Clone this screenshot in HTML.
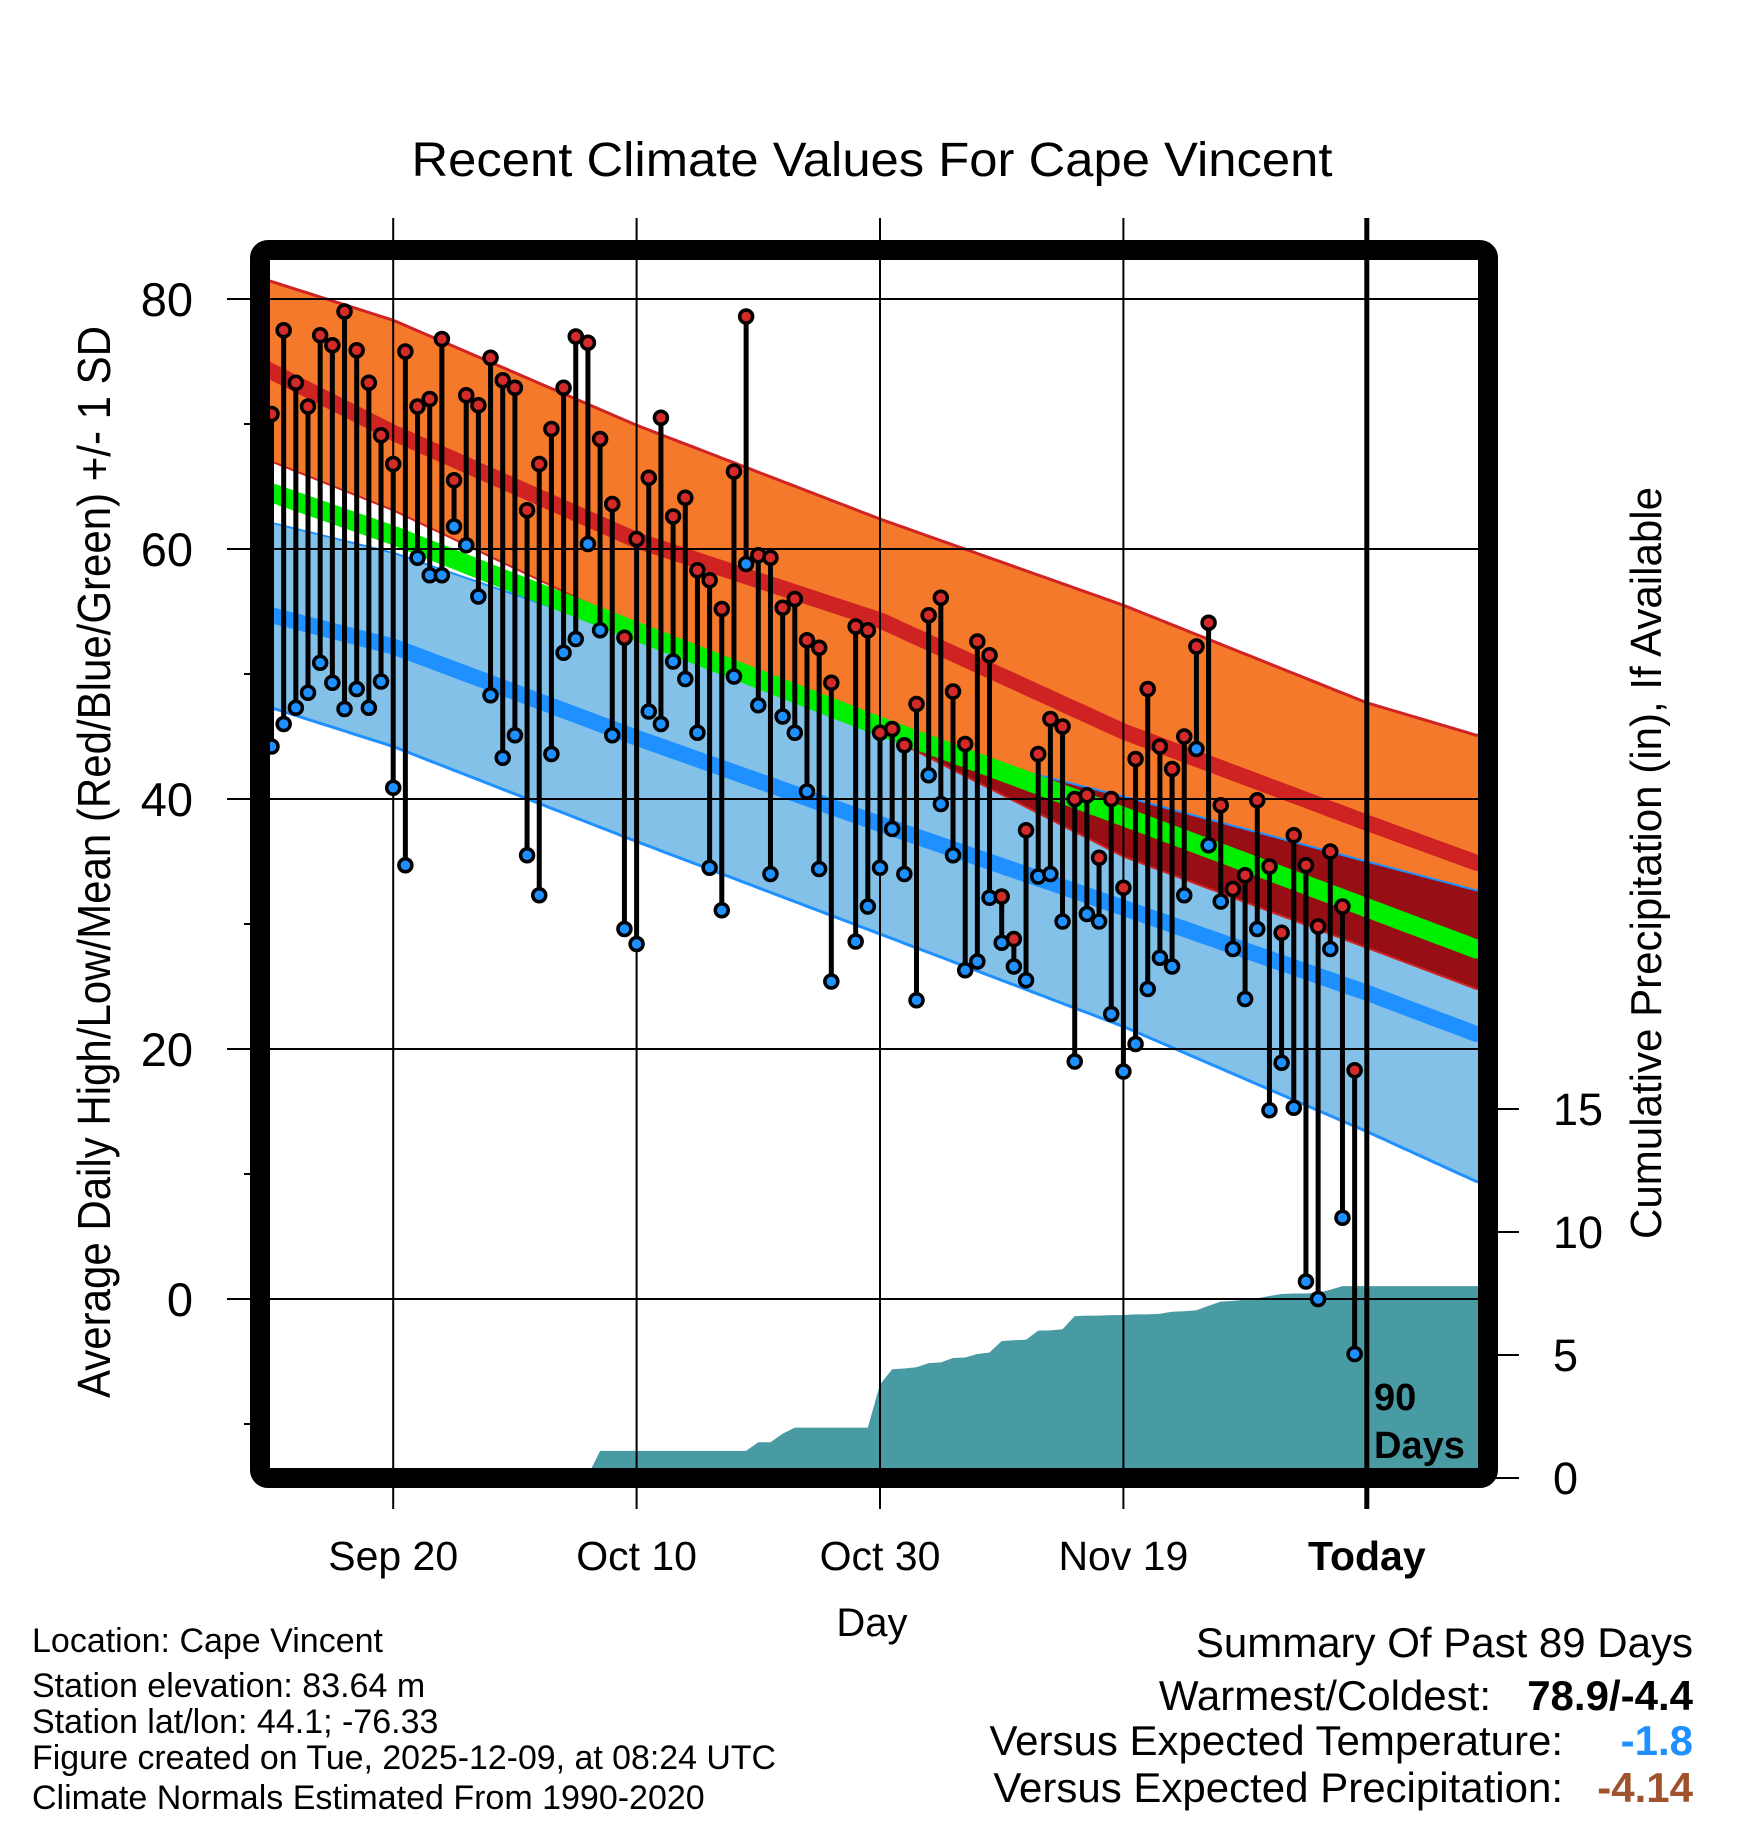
<!DOCTYPE html>
<html><head><meta charset="utf-8">
<style>
html,body{margin:0;padding:0;background:#fff;}
svg{display:block;font-family:"Liberation Sans",sans-serif;}
</style></head>
<body>
<svg id="chart" width="1748" height="1828" viewBox="0 0 1748 1828" xmlns="http://www.w3.org/2000/svg">
<rect width="1748" height="1828" fill="#fff"/>
<text x="872" y="176" font-size="48" text-anchor="middle" textLength="921" lengthAdjust="spacingAndGlyphs">Recent Climate Values For Cape Vincent</text>
<defs><clipPath id="plotclip"><rect x="270" y="260" width="1208" height="1208"/></clipPath></defs>
<g id="axes"></g>
<g id="plot" clip-path="url(#plotclip)"></g>
<g id="over"></g>
<rect x="260" y="250" width="1228" height="1228" rx="8" fill="none" stroke="#000" stroke-width="20"/>
<text transform="translate(110,862) rotate(-90)" font-size="46" text-anchor="middle" textLength="1072" lengthAdjust="spacingAndGlyphs">Average Daily High/Low/Mean (Red/Blue/Green) +/- 1 SD</text>
<text transform="translate(1661,863) rotate(-90)" font-size="44" text-anchor="middle" textLength="752" lengthAdjust="spacingAndGlyphs">Cumulative Precipitation (in), If Available</text>
<text x="872" y="1636" font-size="40" text-anchor="middle">Day</text>
<text x="1374" y="1410" font-size="38" font-weight="bold">90</text>
<text x="1374" y="1458" font-size="38" font-weight="bold">Days</text>
<g font-size="34">
<text x="32" y="1652">Location: Cape Vincent</text>
<text x="32" y="1697">Station elevation: 83.64 m</text>
<text x="32" y="1733">Station lat/lon: 44.1; -76.33</text>
<text x="32" y="1769" textLength="744" lengthAdjust="spacingAndGlyphs">Figure created on Tue, 2025-12-09, at 08:24 UTC</text>
<text x="32" y="1809">Climate Normals Estimated From 1990-2020</text>
</g>
<g font-size="42" text-anchor="end">
<text x="1693" y="1657">Summary Of Past 89 Days</text>
<text x="1491" y="1710">Warmest/Coldest:</text>
<text x="1693" y="1710" font-weight="bold">78.9/-4.4</text>
<text x="1563" y="1755">Versus Expected Temperature:</text>
<text x="1693" y="1755" font-weight="bold" fill="#1e90ff">-1.8</text>
<text x="1563" y="1802">Versus Expected Precipitation:</text>
<text x="1693" y="1802" font-weight="bold" fill="#a0522d">-4.14</text>
</g>
</svg>
<script>
// ---- data ----
var highs = [70.8,77.5,73.3,71.4,77.1,76.3,79.0,75.9,73.3,69.1,66.8,75.8,71.4,72.0,76.8,65.5,72.3,71.5,75.3,73.5,72.9,63.1,66.8,69.6,72.9,77.0,76.5,68.8,63.6,52.9,60.8,65.7,70.5,62.6,64.1,58.3,57.5,55.2,66.2,78.6,59.5,59.3,55.3,56.0,52.7,52.1,49.3,null,53.8,53.5,45.3,45.6,44.3,47.6,54.7,56.1,48.6,44.4,52.6,51.5,32.2,28.8,37.5,43.6,46.4,45.8,40.0,40.3,35.3,40.0,32.9,43.2,48.8,44.2,42.4,45.0,52.2,54.1,39.5,32.8,33.9,39.9,34.6,29.3,37.1,34.7,29.8,35.8,31.4,18.3];
var lows  = [44.2,46.0,47.3,48.5,50.9,49.3,47.2,48.8,47.3,49.4,40.9,34.7,59.3,57.9,57.9,61.8,60.3,56.2,48.3,43.3,45.1,35.5,32.3,43.6,51.7,52.8,60.4,53.5,45.1,29.6,28.4,47.0,46.0,51.0,49.6,45.3,34.5,31.1,49.8,58.8,47.5,34.0,46.6,45.3,40.6,34.4,25.4,null,28.6,31.4,34.5,37.6,34.0,23.9,41.9,39.6,35.5,26.3,27.0,32.1,28.5,26.6,25.5,33.8,34.0,30.2,19.0,30.8,30.2,22.8,18.2,20.4,24.8,27.3,26.6,32.3,44.0,36.3,31.8,28.0,24.0,29.6,15.1,18.9,15.3,1.4,0.0,28.0,6.5,-4.4];
var precip = [0,0,0,0,0,0,0,0,0,0,0,0,0,0,0,0.1,0.1,0.1,0.1,0.1,0.1,0.1,0.1,0.1,0.1,0.1,0.1,1.1,1.1,1.1,1.1,1.1,1.1,1.1,1.1,1.1,1.1,1.1,1.1,1.1,1.45,1.45,1.8,2.05,2.05,2.05,2.05,2.05,2.05,2.05,3.8,4.42,4.45,4.5,4.67,4.7,4.88,4.9,5.04,5.1,5.57,5.6,5.62,5.99,6.0,6.05,6.58,6.6,6.6,6.62,6.62,6.65,6.65,6.68,6.76,6.78,6.82,7.0,7.17,7.2,7.25,7.31,7.4,7.48,7.5,7.5,7.53,7.65,7.8,7.8];
var normDays  = [0,10,30,50,70,90,99];
var highPlus  = [81.4,78.3,69.9,62.4,55.5,47.7,45.1];
var highMean  = [74.2,69.3,60.7,54.3,45.4,38.1,34.9];
var highMinus = [67.0,63.1,53.8,45.3,35.4,28.1,24.8];
var lowPlus   = [62.1,59.7,53.0,45.1,40.2,35.0,32.7];
var meanTemp  = [64.5,61.1,53.4,45.8,38.6,31.3,28.0];
var lowMean   = [54.7,52.2,44.9,38.0,31.3,24.5,21.2];
var lowMinus  = [47.3,44.2,36.6,29.2,21.8,13.4,9.4];
var yTicks = [80,60,40,20,0];
var yMinor = [70,50,30,10,-10];
var xTickDays = [10,30,50,70,90];
var xTickLabels = ["Sep 20","Oct 10","Oct 30","Nov 19","Today"];
var pTicks = [0,5,10,15];

// ---- scales ----
function xS(d){return 271.5+12.17*d;}
function yT(v){return 1299-12.5*v;}
function yP(p){return 1478-24.6*p;}
var NS="http://www.w3.org/2000/svg";
function mk(tag,attrs,parent){var e=document.createElementNS(NS,tag);for(var k in attrs)e.setAttribute(k,attrs[k]);parent.appendChild(e);return e;}
var plot=document.getElementById('plot'),axes=document.getElementById('axes'),over=document.getElementById('over');
function interp(arr,d){for(var i=0;i<normDays.length-1;i++){if(d<=normDays[i+1]){var t=(d-normDays[i])/(normDays[i+1]-normDays[i]);return arr[i]+t*(arr[i+1]-arr[i]);}}return arr[arr.length-1];}
var samp=[];for(var d=-1;d<=100;d+=0.5)samp.push(d);
function line(arr){return samp.map(function(d,i){return (i?'L':'M')+xS(d).toFixed(1)+','+yT(interp(arr,d)).toFixed(1);}).join('');}
function band(top,bot){var s=line(top);for(var i=samp.length-1;i>=0;i--){s+='L'+xS(samp[i]).toFixed(1)+','+yT(interp(bot,samp[i])).toFixed(1);}return s+'Z';}

var e;
e=mk('path',{d:band(highPlus,highMinus),fill:'#f5792b'},plot);

e=mk('path',{d:band(lowPlus,lowMinus),fill:'#84c1e8'},plot);

var ov='';
var pts=[],ptsb=[];
samp.forEach(function(d){var lp=interp(lowPlus,d),hm=interp(highMinus,d);if(lp>hm){pts.push([xS(d),yT(lp)]);ptsb.push([xS(d),yT(hm)]);}});
if(pts.length){ov=pts.map(function(p,i){return (i?'L':'M')+p[0].toFixed(1)+','+p[1].toFixed(1);}).join('');for(var i=ptsb.length-1;i>=0;i--)ov+='L'+ptsb[i][0].toFixed(1)+','+ptsb[i][1].toFixed(1);ov+='Z';
e=mk('path',{d:ov,fill:'#970f15'},plot);
}
e=mk('path',{d:line(highPlus),fill:'none',stroke:'#d02424','stroke-width':3},plot);

e=mk('path',{d:line(highMinus),fill:'none',stroke:'#d02424','stroke-width':2},plot);

e=mk('path',{d:line(lowPlus),fill:'none',stroke:'#1e90ff','stroke-width':2},plot);

e=mk('path',{d:line(lowMinus),fill:'none',stroke:'#1e90ff','stroke-width':3},plot);

e=mk('path',{d:line(highMean),fill:'none',stroke:'#cf2222','stroke-width':16},plot);

e=mk('path',{d:line(meanTemp),fill:'none',stroke:'#00ee00','stroke-width':19},plot);

e=mk('path',{d:line(lowMean),fill:'none',stroke:'#1e90ff','stroke-width':16},plot);


var pd='M'+xS(0).toFixed(1)+','+yP(0);
precip.forEach(function(p,i){pd+='L'+xS(i).toFixed(1)+','+yP(p).toFixed(1);});
pd+='L1480,'+yP(precip[precip.length-1]).toFixed(1)+'L1480,1480L'+xS(0).toFixed(1)+',1480Z';
e=mk('path',{d:pd,fill:'#489aa3'},plot);


yTicks.forEach(function(v){
  e=mk('line',{x1:227,x2:1478,y1:yT(v),y2:yT(v),stroke:'#000','stroke-width':2},over);
  
  e=mk('text',{x:193,y:yT(v)+17,'font-size':47,'text-anchor':'end'},axes);
  
  e.textContent=String(v);
});
yMinor.forEach(function(v){
  e=mk('line',{x1:244,x2:254,y1:yT(v),y2:yT(v),stroke:'#000','stroke-width':2},axes);
  
});
xTickDays.forEach(function(d,i){
  var last=i===xTickDays.length-1;
  e=mk('line',{x1:xS(d),x2:xS(d),y1:218,y2:1509,stroke:'#000','stroke-width':last?5:2},over);
  
  e=mk('text',{x:xS(d),y:1570,'font-size':41,'text-anchor':'middle','font-weight':last?'bold':'normal'},axes);
  
  e.textContent=xTickLabels[i];
});
pTicks.forEach(function(p){
  e=mk('line',{x1:1488,x2:1519,y1:yP(p),y2:yP(p),stroke:'#000','stroke-width':2},axes);
  
  e=mk('text',{x:1553,y:yP(p)+16,'font-size':45},axes);
  
  e.textContent=String(p);
});

var daily=mk('g',{},over);


highs.forEach(function(h,i){
  var l=lows[i]; if(h===null||l===null)return;
  var x=xS(i);
  e=mk('line',{x1:x,x2:x,y1:yT(h),y2:yT(l),stroke:'#000','stroke-width':5},daily);
  
  e=mk('circle',{cx:x,cy:yT(l),r:6.5,fill:'#1e90ff',stroke:'#000','stroke-width':3.5},daily);
  
  e=mk('circle',{cx:x,cy:yT(h),r:6.5,fill:'#d42a2a',stroke:'#000','stroke-width':3.5},daily);
  
});
</script>
</body></html>
